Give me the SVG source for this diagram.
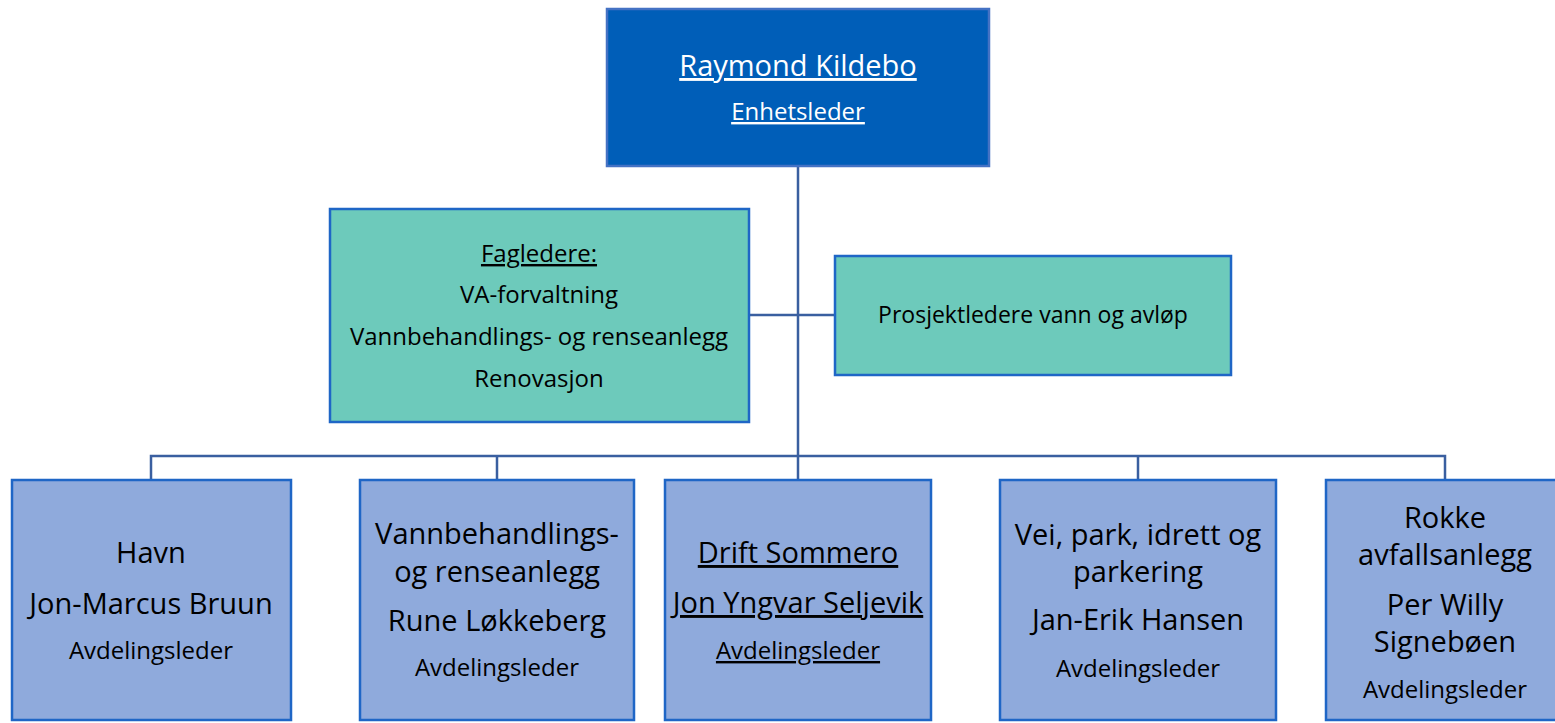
<svg xmlns="http://www.w3.org/2000/svg" width="1555" height="723" viewBox="0 0 1555 723">
<style>
text{font-family:"Open Sans","Lato",sans-serif;text-anchor:middle;fill:#000}
.top{fill:#005EB8;stroke:#4472C4;stroke-width:2.5}
.green{fill:#6DCABB;stroke:#1F66C6;stroke-width:2.5}
.dept{fill:#8FAADC;stroke:#1F66C6;stroke-width:2.5}
.w{fill:#fff}
.u{text-decoration:underline}
.l{font-size:29px}
.m{font-size:24px}
.s{font-size:23px}
.con{stroke:#3A5FA0;stroke-width:2.5;fill:none}
</style>
<rect width="1555" height="723" fill="#fff"/>
<g id="connectors">
<path class="con" d="M798 166V456M749 315H835M151 480V456H1445V480M497 456V480M798 456V480M1138 456V480"/>
</g>
<g id="node-top">
<rect class="top" x="607" y="9" width="382" height="157"/>
<text class="w u" x="798" y="76" style="font-size:29px">Raymond Kildebo</text>
<text class="w u m" x="798" y="120">Enhetsleder</text>
</g>
<g id="node-fagledere">
<rect class="green" x="330" y="209" width="419" height="213"/>
<text class="m u" x="539" y="262">Fagledere:</text>
<text class="m" x="539" y="303">VA-forvaltning</text>
<text class="m" x="539" y="345">Vannbehandlings- og renseanlegg</text>
<text class="m" x="539" y="387">Renovasjon</text>
</g>
<g id="node-prosjekt">
<rect class="green" x="835" y="256" width="396" height="119"/>
<text class="s" x="1033" y="323">Prosjektledere vann og avløp</text>
</g>
<g id="node-havn">
<rect class="dept" x="12" y="480" width="279" height="240"/>
<text class="l" x="151" y="563">Havn</text>
<text class="l" x="151" y="614">Jon-Marcus Bruun</text>
<text class="m" x="151" y="659">Avdelingsleder</text>
</g>
<g id="node-vann">
<rect class="dept" x="360" y="480" width="274" height="240"/>
<text class="l" x="497" y="544">Vannbehandlings-</text>
<text class="l" x="497" y="582">og renseanlegg</text>
<text class="l" x="497" y="631">Rune Løkkeberg</text>
<text class="m" x="497" y="676">Avdelingsleder</text>
</g>
<g id="node-drift">
<rect class="dept" x="665" y="480" width="266" height="240"/>
<text class="l u" x="798" y="563">Drift Sommero</text>
<text class="l u" x="798" y="613">Jon Yngvar Seljevik</text>
<text class="m u" x="798" y="659">Avdelingsleder</text>
</g>
<g id="node-vei">
<rect class="dept" x="1000" y="480" width="276" height="240"/>
<text class="l" x="1138" y="545">Vei, park, idrett og</text>
<text class="l" x="1138" y="582">parkering</text>
<text class="l" x="1138" y="630">Jan-Erik Hansen</text>
<text class="m" x="1138" y="677">Avdelingsleder</text>
</g>
<g id="node-rokke">
<rect class="dept" x="1326" y="480" width="240" height="240"/>
<text class="l" x="1445" y="528">Rokke</text>
<text class="l" x="1445" y="565">avfallsanlegg</text>
<text class="l" x="1445" y="615">Per Willy</text>
<text class="l" x="1445" y="652">Signebøen</text>
<text class="m" x="1445" y="698">Avdelingsleder</text>
</g>
</svg>
